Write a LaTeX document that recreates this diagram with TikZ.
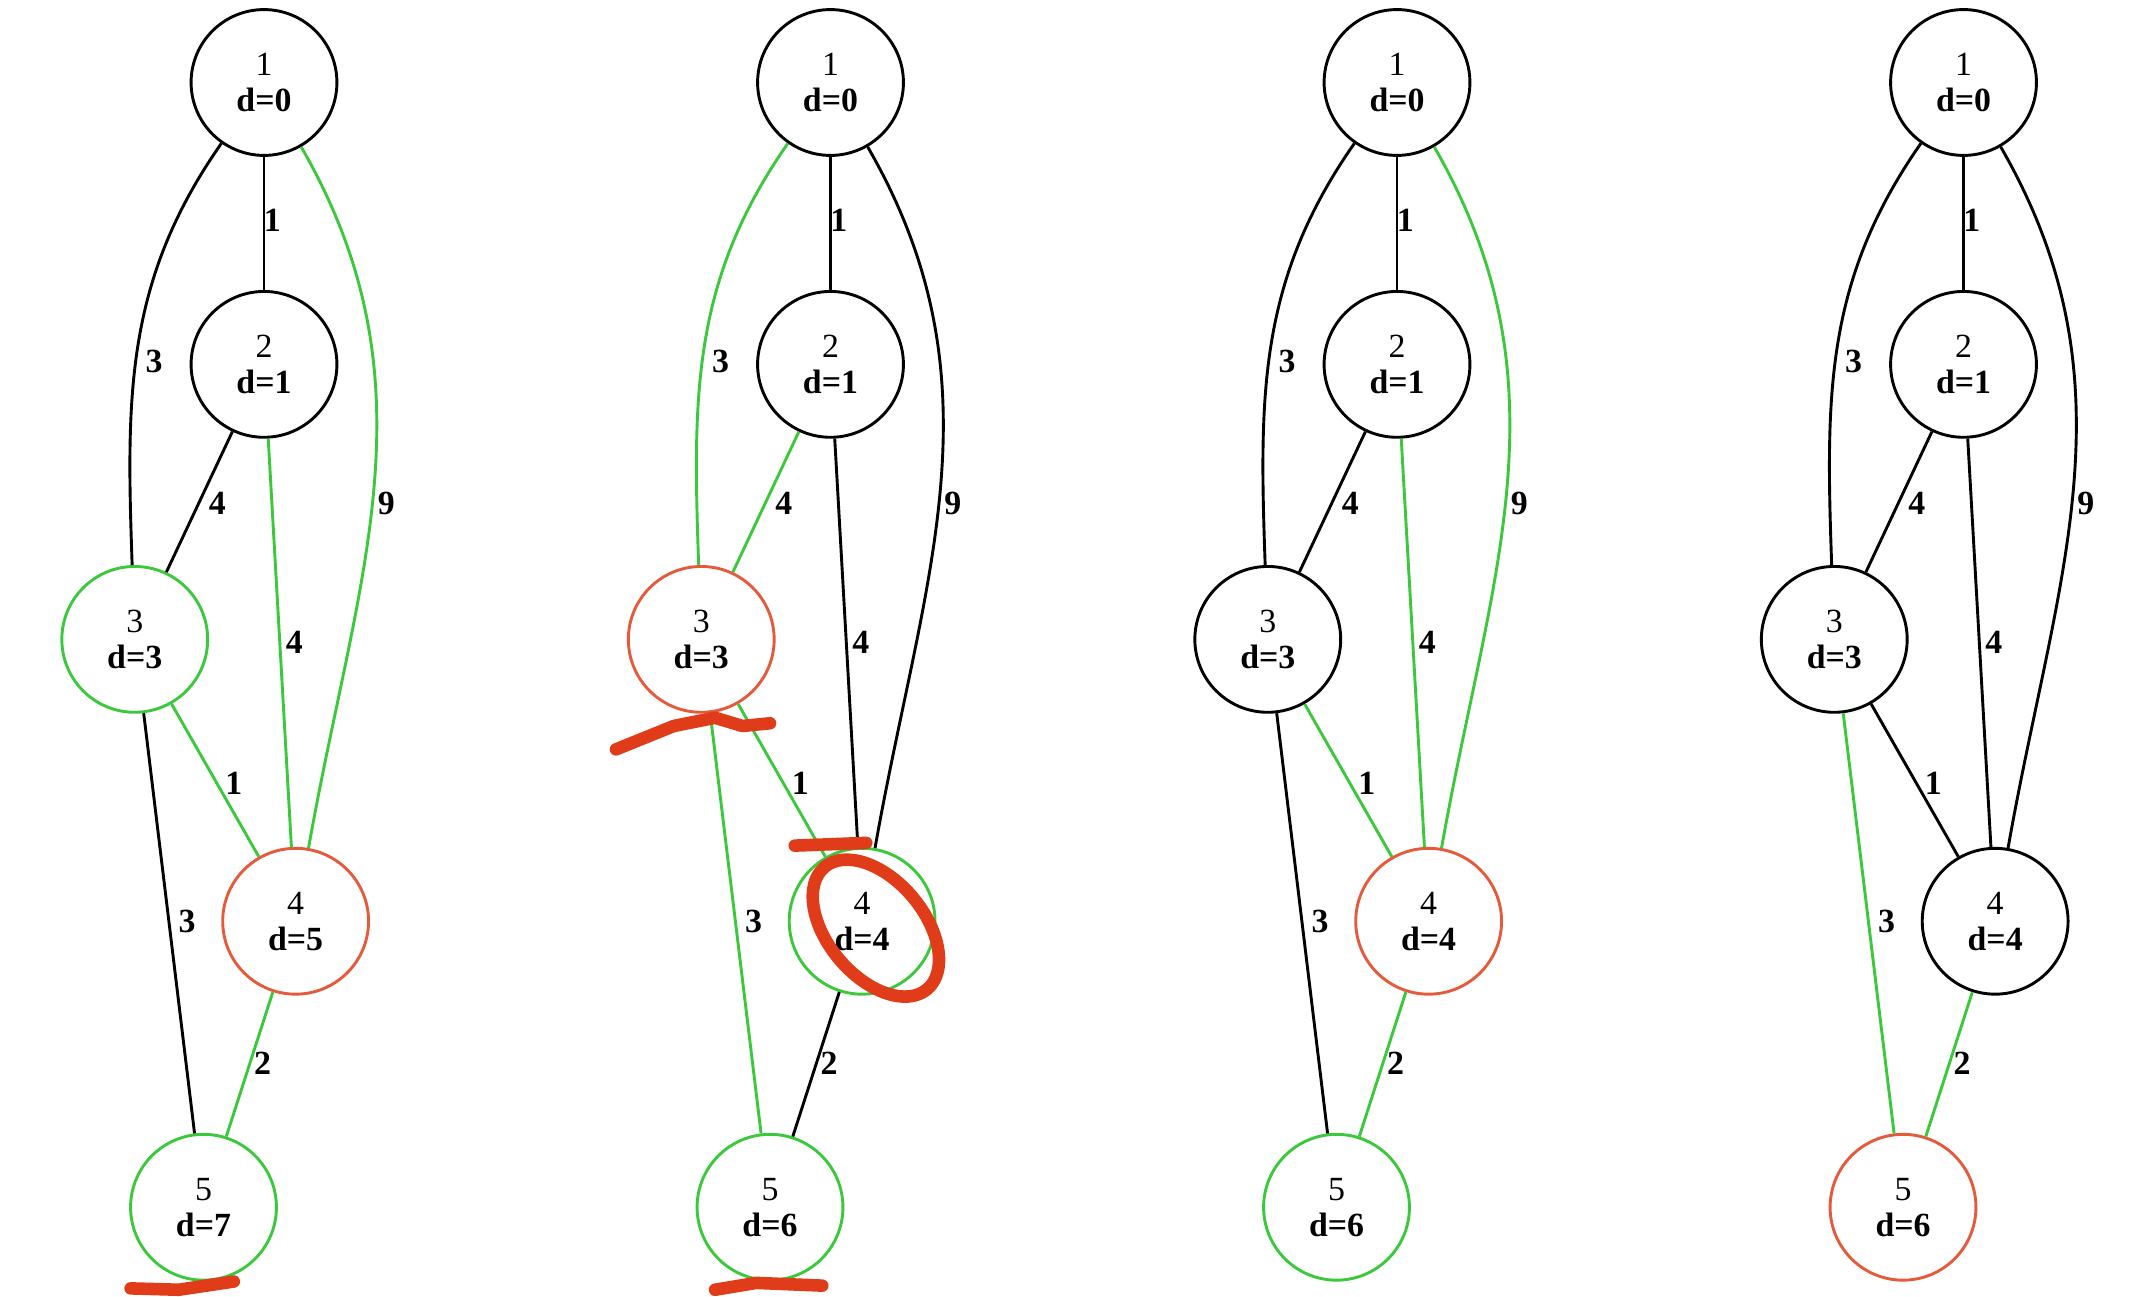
\documentclass[tikz,border=0pt]{standalone}
\usepackage{fontspec}
\setmainfont{Liberation Serif}
\definecolor{gr}{RGB}{60,200,60}
\definecolor{rd}{RGB}{230,90,60}
\definecolor{mark}{RGB}{225,60,25}
\begin{document}
\begin{tikzpicture}[x=0.01cm,y=-0.01cm,
  v/.style={circle,draw,line width=0.6pt,minimum size=1.06cm,inner sep=0pt,align=center,font=\fontsize{7}{7.5}\selectfont},
  e/.style={line width=0.6pt},
  lab/.style={font=\fontsize{7}{8}\selectfont\bfseries,inner sep=1pt},
  scrib/.style={draw=mark,line width=2.6pt,line cap=round,line join=round}]
\useasboundingbox (0,0) rectangle (1552,943);
% #1 prefix, #2 x offset, #3 d4, #4 d5, #5 node colors n3,n4,n5 ; #6 edge colors
\newcommand{\mygraph}[8]{%
\begin{scope}[xshift=#2*0.01cm]
\node[v,draw=#5] (#1a) at (192,60) {1\\\textbf{d=0}};
\node[v] (#1b) at (192,265) {2\\\textbf{d=1}};
\node[v,draw=#6] (#1c) at (98,465) {3\\\textbf{d=3}};
\node[v,draw=#7] (#1d) at (215,670) {4\\\textbf{d=#3}};
\node[v,draw=#8] (#1e) at (148,878) {5\\\textbf{d=#4}};
\end{scope}}
\newcommand{\myedges}[9]{%
\draw[e,draw=#2] (#1a) -- (#1b);
\draw[e,draw=#3] (#1a) to[out=-125,in=92] (#1c);
\draw[e,draw=#4] (#1a) to[out=-60,in=80] (#1d);
\draw[e,draw=#5] (#1b) -- (#1c);
\draw[e,draw=#6] (#1b) -- (#1d);
\draw[e,draw=#7] (#1c) -- (#1d);
\draw[e,draw=#8] (#1c) -- (#1e);
\draw[e,draw=#9] (#1d) -- (#1e);}
\newcommand{\mylabels}[1]{%
\begin{scope}[xshift=#1*0.01cm]
\node[lab] at (198,160) {1};
\node[lab] at (112,263) {3};
\node[lab] at (281,366) {9};
\node[lab] at (158,366) {4};
\node[lab] at (214,467) {4};
\node[lab] at (170,570) {1};
\node[lab] at (136,670) {3};
\node[lab] at (191,773) {2};
\end{scope}}
\mygraph{p}{0}{5}{7}{black}{gr}{rd}{gr}
\mygraph{q}{412}{4}{6}{black}{rd}{gr}{gr}
\mygraph{r}{824}{4}{6}{black}{black}{rd}{gr}
\mygraph{s}{1236}{4}{6}{black}{black}{black}{rd}
\myedges{p}{black}{black}{gr}{black}{gr}{gr}{black}{gr}
\myedges{q}{black}{gr}{black}{gr}{black}{gr}{gr}{black}
\myedges{r}{black}{black}{gr}{black}{gr}{gr}{black}{gr}
\myedges{s}{black}{black}{black}{black}{black}{black}{gr}{gr}
\mylabels{0}\mylabels{412}\mylabels{824}\mylabels{1236}
% red marks
\draw[scrib] (95,937) -- (130,938) -- (170,932);
\draw[scrib] (448,545) -- (490,528) -- (520,522) -- (540,528) -- (560,526);
\draw[scrib] (578,615) -- (630,613);
\draw[scrib,rotate around={-50:(637,675)}] (637,675) ellipse (58 and 35);
\draw[scrib] (520,938) -- (550,933) -- (598,935);
\end{tikzpicture}
\end{document}
